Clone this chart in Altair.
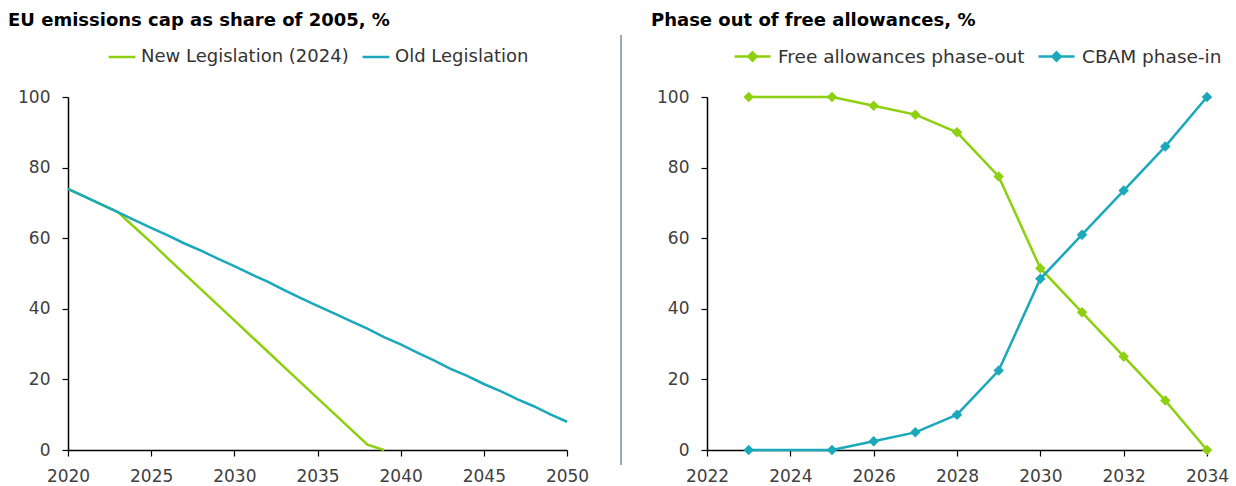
import altair as alt
import pandas as pd

# EU ETS cap, share of 2005 emissions (%)
cap_years = list(range(2020, 2051))
old_cap = [74.0, 71.8, 69.6, 67.4, 65.1, 62.9, 60.8, 58.5, 56.5, 54.2, 52.1,
           49.8, 47.7, 45.3, 43.0, 40.8, 38.7, 36.5, 34.4, 32.0, 29.9,
           27.6, 25.4, 23.0, 21.0, 18.7, 16.7, 14.4, 12.4, 10.1, 8.0]
new_years = list(range(2020, 2040))
new_cap = [74.0, 71.8, 69.6, 67.4, 63.1, 58.8, 54.3, 49.9, 45.5, 41.1, 36.7,
           32.3, 27.9, 23.5, 19.1, 14.7, 10.3, 5.9, 1.5, 0.0]

# Free allowances vs CBAM (%)
phase_years = [2023, 2025, 2026, 2027, 2028, 2029, 2030, 2031, 2032, 2033, 2034]
free_alloc = [100, 100, 97.5, 95, 90, 77.5, 51.5, 39, 26.5, 14, 0]
cbam_in = [0, 0, 2.5, 5, 10, 22.5, 48.5, 61, 73.5, 86, 100]

GREEN = "#8cd00f"
TEAL = "#1aa8ba"
FONT = "DejaVu Sans"

cap_df = pd.concat([
    pd.DataFrame({"year": new_years, "value": new_cap, "series": "New Legislation (2024)"}),
    pd.DataFrame({"year": cap_years, "value": old_cap, "series": "Old Legislation"}),
])
phase_df = pd.concat([
    pd.DataFrame({"year": phase_years, "value": free_alloc, "series": "Free allowances phase-out"}),
    pd.DataFrame({"year": phase_years, "value": cbam_in, "series": "CBAM phase-in"}),
])

y_axis = alt.Axis(values=[0, 20, 40, 60, 80, 100], title=None)
y_scale = alt.Scale(domain=[0, 100], nice=False)

legend_style = dict(title=None, orient="none", direction="horizontal",
                    columnPadding=8, labelFont=FONT, labelColor="#333333",
                    labelLimit=400, symbolStrokeWidth=2.5)

left = alt.Chart(cap_df).mark_line(strokeWidth=2.5).encode(
    x=alt.X("year:Q", scale=alt.Scale(domain=[2020, 2050], nice=False),
            axis=alt.Axis(values=list(range(2020, 2051, 5)), format="d", title=None,
                          labelFlush=False)),
    y=alt.Y("value:Q", scale=y_scale, axis=y_axis),
    color=alt.Color("series:N",
                    scale=alt.Scale(domain=["New Legislation (2024)", "Old Legislation"],
                                    range=[GREEN, TEAL]),
                    legend=alt.Legend(legendX=39, legendY=-55, labelOffset=4,
                                      labelFontSize=18, symbolType="stroke",
                                      symbolSize=720, **legend_style)),
).properties(
    width=499, height=353,
    title=alt.TitleParams("EU emissions cap as share of 2005, %", anchor="start",
                          frame="group", dx=-60, offset=12),
)

# legend glyph: short line with a diamond in the middle
diamond_line = "M-1,0L1,0M0,-0.23L0.23,0L0,0.23L-0.23,0Z"
series_scale = alt.Scale(domain=["Free allowances phase-out", "CBAM phase-in"],
                         range=[GREEN, TEAL])
right_base = alt.Chart(phase_df).encode(
    x=alt.X("year:Q", scale=alt.Scale(domain=[2022, 2034], nice=False),
            axis=alt.Axis(values=list(range(2022, 2035, 2)), format="d", title=None,
                          labelFlush=False)),
    y=alt.Y("value:Q", scale=y_scale, axis=y_axis),
    color=alt.Color("series:N", scale=series_scale,
                    legend=alt.Legend(legendX=26, legendY=-60, labelOffset=6,
                                      labelFontSize=18.5, symbolType=diamond_line,
                                      symbolSize=1296, **legend_style)),
)
right_lines = right_base.mark_line(strokeWidth=2.5)
right_points = right_base.mark_point(shape="diamond", filled=True, size=110, opacity=1)

divider = alt.Chart(alt.Data(values=[{}])).mark_rule(color="#2d5577", strokeWidth=1).encode(
    x=alt.value(-86), y=alt.value(-62), y2=alt.value(368)
)

right = alt.layer(divider, right_lines, right_points).properties(
    width=500, height=353,
    title=alt.TitleParams("Phase out of free allowances, %", anchor="start",
                          frame="group", dx=-56, offset=5),
)

chart = alt.hconcat(left, right, spacing=140, bounds="flush").resolve_scale(
    color="independent"
).resolve_legend(color="independent").properties(
    padding={"left": 8, "top": 11, "right": 5, "bottom": 5}
).configure_view(stroke=None).configure_axis(
    grid=False, domainColor="#000000", domainWidth=1.5, tickColor="#000000",
    tickWidth=1.2, tickSize=6, labelFontSize=17, labelFont=FONT,
    labelColor="#404040", labelPadding=12,
).configure_axisY(labelPadding=12).configure_title(
    font=FONT, fontSize=18, fontWeight="bold", color="#000000"
)

chart.save("out.html", embed_options={"renderer": "svg", "actions": False})
